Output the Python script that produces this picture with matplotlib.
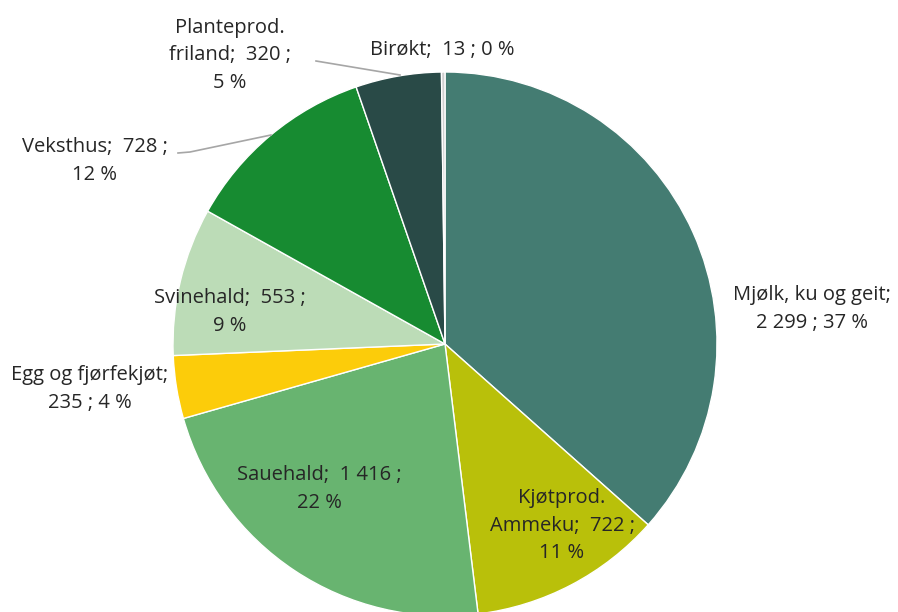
import matplotlib
matplotlib.use("Agg")
import matplotlib.pyplot as plt

categories = ["Mjølk, ku og geit", "Kjøtprod.\nAmmeku", "Sauehald", "Egg og fjørfekjøt",
              "Svinehald", "Veksthus", "Planteprod.\nfriland", "Birøkt"]
values = [2299, 722, 1416, 235, 553, 728, 320, 13]
value_text = ["2 299", "722", "1 416", "235", "553", "728", "320", "13"]
percent_text = ["37 %", "11 %", "22 %", "4 %", "9 %", "12 %", "5 %", "0 %"]
colors = ["#447c72", "#b9c00a", "#68b470", "#fccc0a", "#bcdcb7", "#178b31", "#294a47", "#cfcfcf"]

labels = [
    "Mjølk, ku og geit;\n2 299 ; 37 %",
    "Kjøtprod.\nAmmeku;  722 ;\n11 %",
    "Sauehald;  1 416 ;\n22 %",
    "Egg og fjørfekjøt;\n235 ; 4 %",
    "Svinehald;  553 ;\n9 %",
    "Veksthus;  728 ;\n12 %",
    "Planteprod.\nfriland;  320 ;\n5 %",
    "Birøkt;  13 ; 0 %",
]
# label centres in pixel coordinates (x, y from top)
label_pos = [(812, 309), (562, 526), (319, 489), (90, 389), (230, 312), (95, 161), (230, 55), (442, 50)]

W, H = 898, 612
fig = plt.figure(figsize=(W / 100, H / 100), dpi=100)
ax = fig.add_axes([0, 0, 1, 1])
cx, cy, r = 445, 612 - 344, 272
ax.pie(values, colors=colors, startangle=90, counterclock=False, center=(cx, cy), radius=r,
       wedgeprops=dict(edgecolor="white", linewidth=1.0))
ax.set_xlim(0, W)
ax.set_ylim(0, H)
ax.set_aspect("equal")
ax.axis("off")

for lab, (x, y) in zip(labels, label_pos):
    ax.text(x, H - y, lab, ha="center", va="center", fontsize=14.5, color="#262626",
            family="Open Sans", linespacing=1.5)

# leader lines
ax.plot([316, 400], [H - 61, H - 75], color="#a6a6a6", lw=1.2, clip_on=False)
ax.plot([178, 190, 271], [H - 153, H - 152, H - 135], color="#a6a6a6", lw=1.2)

fig.savefig("out.png", dpi=100)
